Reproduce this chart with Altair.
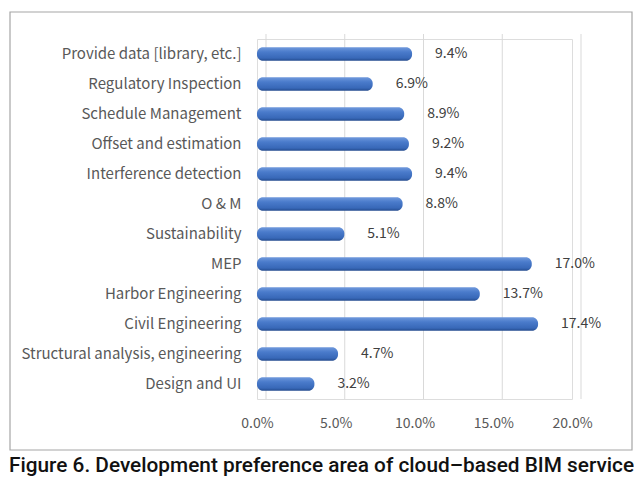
import altair as alt
import pandas as pd

categories = [
    "Provide data [library, etc.]",
    "Regulatory Inspection",
    "Schedule Management",
    "Offset and estimation",
    "Interference detection",
    "O & M",
    "Sustainability",
    "MEP",
    "Harbor Engineering",
    "Civil Engineering",
    "Structural analysis, engineering",
    "Design and UI",
]
values = [9.4, 6.9, 8.9, 9.2, 9.4, 8.8, 5.1, 17.0, 13.7, 17.4, 4.7, 3.2]
tick_values = [0.0, 0.05, 0.10, 0.15, 0.20]
caption = "Figure 6. Development preference area of cloud\u2013based BIM service"

df = pd.DataFrame({"cat": categories, "val": [v / 100 for v in values]})
df["label"] = [f"{v:.1f}%" for v in values]
grid_df = pd.DataFrame({"t": tick_values})

W, H = 315, 360
FONT = "Noto Sans CJK KR"

xscale = alt.Scale(domain=[0, 0.2], nice=False)
yenc = alt.Y("cat:N", sort=categories, scale=alt.Scale(paddingInner=0.55, paddingOuter=0.275),
             axis=alt.Axis(title=None, ticks=False, domain=False, labelPadding=16,
                           labelFontSize=15, labelColor="#595959", labelFont=FONT,
                           labelLimit=400))

frame = alt.Chart(grid_df).mark_rect(fill=None, stroke="#a6a6a6", strokeWidth=1.2).encode(
    x=alt.value(-247), x2=alt.value(375), y=alt.value(-27), y2=alt.value(411)
).transform_filter(alt.datum.t == 0)

grid = alt.Chart(grid_df).mark_rule(color="#d9d9d9", strokeWidth=1, xOffset=9).encode(
    x=alt.X("t:Q", scale=xscale),
    y=alt.value(-5), y2=alt.value(360),
)

grad = alt.Gradient(
    gradient="linear", x1=0, x2=0, y1=0, y2=1,
    stops=[
        alt.GradientStop(offset=0, color="#7099dc"),
        alt.GradientStop(offset=0.35, color="#4a7bcb"),
        alt.GradientStop(offset=0.8, color="#3868b8"),
        alt.GradientStop(offset=1, color="#244b8e"),
    ],
)

bars = alt.Chart(df).mark_bar(color=grad, cornerRadius=6, xOffset=7).encode(
    x=alt.X("val:Q", scale=xscale,
            axis=alt.Axis(values=tick_values, format=".1%", title=None, grid=False,
                          ticks=False, domain=False, labelPadding=17, labelFontSize=14,
                          labelColor="#595959", labelFont=FONT, labelFlush=False)),
    x2=alt.datum(0),
    y=yenc,
)

labels = alt.Chart(df).mark_text(align="left", baseline="middle", dx=30, fontSize=14,
                                 color="#404040", font=FONT).encode(
    x=alt.X("val:Q", scale=xscale),
    y=alt.Y("cat:N", sort=categories),
    text="label:N",
)

chart = alt.layer(frame, grid, bars, labels).properties(
    width=W, height=H,
    autosize=alt.AutoSizeParams(type="none"),
    padding={"left": 249, "top": 31, "right": 62, "bottom": 82},
    title=alt.TitleParams(caption, orient="bottom", anchor="start", frame="group",
                          dx=-248, offset=5, fontSize=20.8, fontWeight=500,
                          font="Roboto", color="#111111"),
).configure_view(stroke=None).configure(background="white")

chart.save("out.html", embed_options={"renderer": "svg", "actions": False})
